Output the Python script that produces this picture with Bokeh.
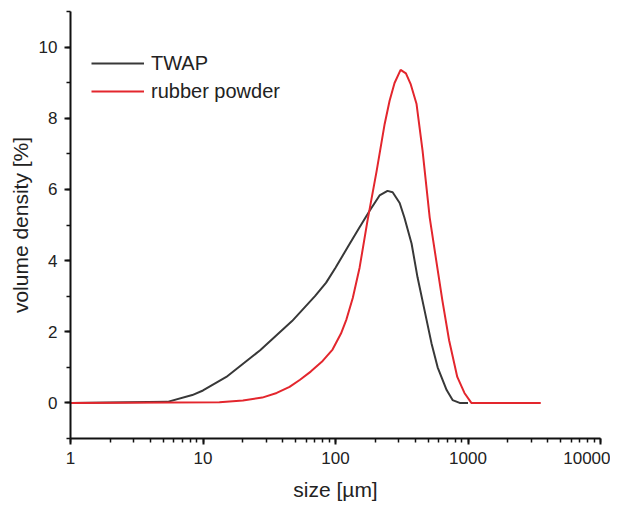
from bokeh.plotting import figure
from bokeh.models import LogTicker, BasicTicker, Legend, LegendItem, Range1d
from bokeh.embed import file_html
from bokeh.resources import INLINE

# TWAP particle size distribution
twap_size = [1, 5.4, 8.3, 10, 15, 27, 47, 70, 85, 100, 127, 150, 181, 215, 247, 270, 305,
             331, 375, 416, 470, 530, 590, 690, 765, 865, 1000]
twap_vol = [0, 0.03, 0.22, 0.35, 0.73, 1.48, 2.3, 3.0, 3.38, 3.8, 4.45, 4.9, 5.4, 5.83, 5.96, 5.92, 5.62,
            5.21, 4.48, 3.53, 2.6, 1.68, 1.0, 0.36, 0.08, 0.0, 0.0]

# rubber powder particle size distribution
rubber_size = [1, 13.3, 20, 28, 36, 45, 54, 65, 80, 95, 110, 121, 135, 152, 174, 204, 235, 256, 279,
               310, 340, 370, 409, 454, 514, 576, 640, 720, 830, 940, 1060, 3540]
rubber_vol = [0, 0.02, 0.07, 0.15, 0.28, 0.45, 0.65, 0.88, 1.18, 1.5, 1.95, 2.35, 2.95, 3.8, 5.1, 6.5,
              7.84, 8.49, 8.99, 9.36, 9.26, 8.95, 8.4, 7.09, 5.21, 4.0, 2.89, 1.76, 0.73, 0.28, 0.0, 0.0]

series_names = ["TWAP", "rubber powder"]
x_ticks = [1, 10, 100, 1000, 10000]

FONT = "Liberation Sans"
TXT = "#222222"

p = figure(width=610, height=503, x_axis_type="log",
           x_range=Range1d(1, 10000), y_range=Range1d(-1, 11),
           output_backend="svg", toolbar_location=None,
           min_border_left=70, min_border_right=10, min_border_top=11, min_border_bottom=59)

p.outline_line_color = None
p.xgrid.visible = False
p.ygrid.visible = False
p.background_fill_color = "white"
p.border_fill_color = "white"

r1 = p.line(twap_size, twap_vol, line_color="#383838", line_width=2)
r2 = p.line(rubber_size, rubber_vol, line_color="#e3262d", line_width=2)

p.xaxis.ticker = LogTicker(desired_num_ticks=5, num_minor_ticks=10)
p.xaxis.major_label_overrides = {t: str(t) for t in x_ticks}
p.yaxis.ticker = BasicTicker(desired_num_ticks=6, num_minor_ticks=2)

for ax in (p.xaxis[0], p.yaxis[0]):
    ax.axis_line_width = 2
    ax.axis_line_color = "#111111"
    ax.major_tick_line_color = "#111111"
    ax.minor_tick_line_color = "#111111"
    ax.major_tick_line_width = 2
    ax.minor_tick_line_width = 1.5
    ax.major_tick_out = 6
    ax.major_tick_in = 0
    ax.minor_tick_out = 4
    ax.minor_tick_in = 0
    ax.major_label_text_font = FONT
    ax.major_label_text_font_size = "17px"
    ax.major_label_text_color = TXT
    ax.major_label_standoff = 7
    ax.axis_label_text_font = FONT
    ax.axis_label_text_font_size = "21px"
    ax.axis_label_text_font_style = "normal"
    ax.axis_label_text_color = TXT

p.xaxis.axis_label = "size [µm]"
p.xaxis.axis_label_standoff = 11
p.yaxis.axis_label = "volume density [%]"
p.yaxis.axis_label_standoff = 4

legend = Legend(items=[LegendItem(label=series_names[0], renderers=[r1]),
                       LegendItem(label=series_names[1], renderers=[r2])],
                location=(21, 335))
legend.label_text_font = FONT
legend.label_text_font_size = "20px"
legend.label_text_color = TXT
legend.glyph_width = 53
legend.label_height = 24
legend.glyph_height = 24
legend.spacing = 4
legend.padding = 5
legend.border_line_color = None
legend.background_fill_alpha = 0
legend.label_standoff = 7
p.add_layout(legend)

open("out.html", "w").write(file_html(p, INLINE))
